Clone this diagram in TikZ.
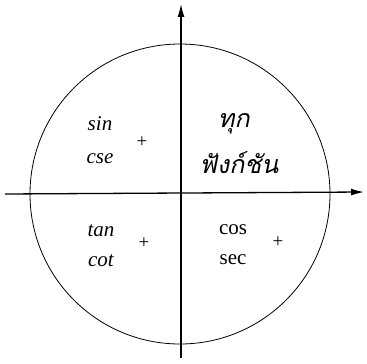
\documentclass[tikz,border=0pt]{standalone}
\usepackage{fontspec}
\setmainfont{Liberation Serif}
\newfontfamily\thaifont[Script=Thai,FakeSlant=0.2]{Loma}
\usetikzlibrary{arrows.meta}
\tikzset{
  axisline/.style={
    -{Latex[length=4.5mm,width=2.4mm]},
    line width=1.3pt
  },
  unitcircle/.style={
    line width=0.8pt
  },
  funcname/.style={
    font=\fontsize{21}{24}\selectfont\itshape,
    inner sep=1pt
  },
  funcup/.style={
    funcname,
    font=\fontsize{21}{24}\selectfont\upshape
  },
  thaiword/.style={
    font=\thaifont\fontsize{25}{28}\selectfont,
    inner sep=1pt
  },
  signmark/.style={
    font=\fontsize{19}{19}\selectfont,
    inner sep=0pt
  }
}

\begin{document}
\begin{tikzpicture}[x=1pt, y=-1pt]
  \useasboundingbox (0,0) rectangle (367,364);

  \coordinate (o) at (180,194);
  \coordinate (xstart) at (5,194);
  \coordinate (xend) at (364,192);
  \coordinate (ystart) at (181,358);
  \coordinate (yend) at (181,4);

  \draw[unitcircle] (o) circle[radius=150];
  \draw[axisline] (xstart) -- (xend);
  \draw[axisline] (ystart) -- (yend);

  % quadrant II
  \node[funcname] (sin) at (100,124) {sin};
  \node[funcname] (cse) at (100,159) {cse};
  \node[signmark] (plus2) at (142,142) {+};

  % quadrant I
  \node[thaiword] (all) at (234,124) {ทุก};
  \node[thaiword] (func) at (239,163) {ฟังก์ชัน};

  % quadrant III
  \node[funcname] (tan) at (101,231) {tan};
  \node[funcname] (cot) at (101,261) {cot};
  \node[signmark] (plus3) at (144,243) {+};

  % quadrant IV
  \node[funcup] (cos) at (233,230) {cos};
  \node[funcup] (sec) at (233,260) {sec};
  \node[signmark] (plus4) at (278,242) {+};
\end{tikzpicture}
\end{document}
